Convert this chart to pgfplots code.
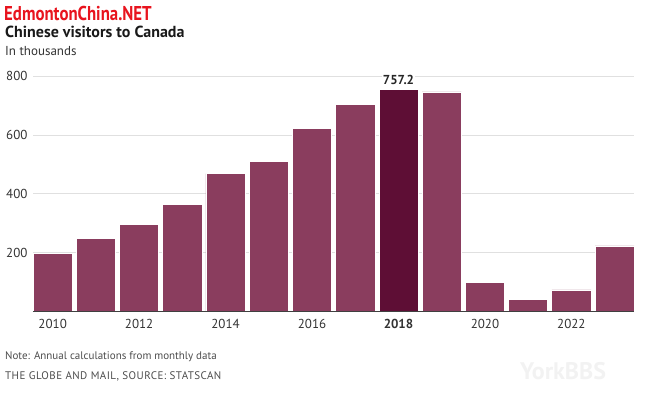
\documentclass[border=0pt]{standalone}
\usepackage{fontspec}
\setmainfont{PT Sans}
\usepackage{pgfplots}
\pgfplotsset{compat=1.18}
\definecolor{barc}{HTML}{8A3D5E}
\definecolor{hic}{HTML}{5E0E35}
\definecolor{gridc}{HTML}{E0E0E0}
\definecolor{txt}{HTML}{333333}
\definecolor{wm}{HTML}{E8141E}
\begin{document}
\begin{tikzpicture}
\path[use as bounding box] (0pt,0pt) rectangle (655pt,-399pt);
\node[anchor=west,font=\fontsize{20}{20}\selectfont\bfseries,text=wm,inner sep=0] at (4pt,-13pt) {\scalebox{0.84}[1]{EdmontonChina.NET}};
\node[anchor=base west,font=\fontsize{16}{16}\selectfont\bfseries,text=black!90,inner sep=0] at (5pt,-37pt) {Chinese visitors to Canada};
\node[anchor=base west,font=\fontsize{13}{13}\selectfont,text=txt,inner sep=0] at (5pt,-55pt) {In thousands};
\begin{axis}[
  at={(33pt,-311.4pt)}, anchor=south west,
  scale only axis, width=601.3pt, height=235.1pt,
  xmin=-0.455, xmax=13.455, ymin=0, ymax=800,
  clip=false,
  axis x line=bottom, axis y line*=left,
  x axis line style={-, draw=black!75, line width=0.8pt},
  y axis line style={draw=none},
  ymajorgrids, grid style={gridc, line width=0.8pt},
  ytick={200,400,600,800},
  xtick={0,2,4,6,8,10,12},
  xticklabels={2010,2012,2014,2016,\textbf{2018},2020,2022},
  major tick length=0,
  tick label style={font=\fontsize{13}{13}\selectfont, text=txt},
  /pgf/number format/assume math mode=true,
  yticklabel style={anchor=east, xshift=-2pt},
  xticklabel style={yshift=-4pt},
  ybar, bar width=39.2pt, bar shift=0pt,
]
\addplot[ybar, fill=barc, draw=white, line width=0.7pt] coordinates {
 (0,198) (1,247) (2,297) (3,364) (4,469) (5,510) (6,622) (7,705) (9,747) (10,100) (11,41) (12,73) (13,223)};
\addplot[ybar, fill=hic, draw=white, line width=0.7pt] coordinates {(8,757.2)};
\node[anchor=south, font=\fontsize{13}{13}\selectfont\bfseries, text=black!85, fill=white, inner sep=1pt] at (axis cs:8,757.2) [yshift=3pt] {757.2};
\draw[black!75, line width=0.8pt] (axis cs:-0.455,0) -- (axis cs:13.455,0);
\end{axis}
\node[anchor=west,font=\fontsize{11}{11}\selectfont,text=black!70,inner sep=0] at (5pt,-357pt) {Note: Annual calculations from monthly data};
\node[anchor=west,font=\fontsize{11}{11}\selectfont\addfontfeatures{LetterSpace=4},text=black!70,inner sep=0] at (5pt,-376pt) {THE GLOBE AND MAIL, SOURCE: STATSCAN};
\node[anchor=west,font=\fontsize{24}{24}\selectfont\bfseries,text=black!5,inner sep=0] at (520pt,-371pt) {YorkBBS};
\end{tikzpicture}
\end{document}
